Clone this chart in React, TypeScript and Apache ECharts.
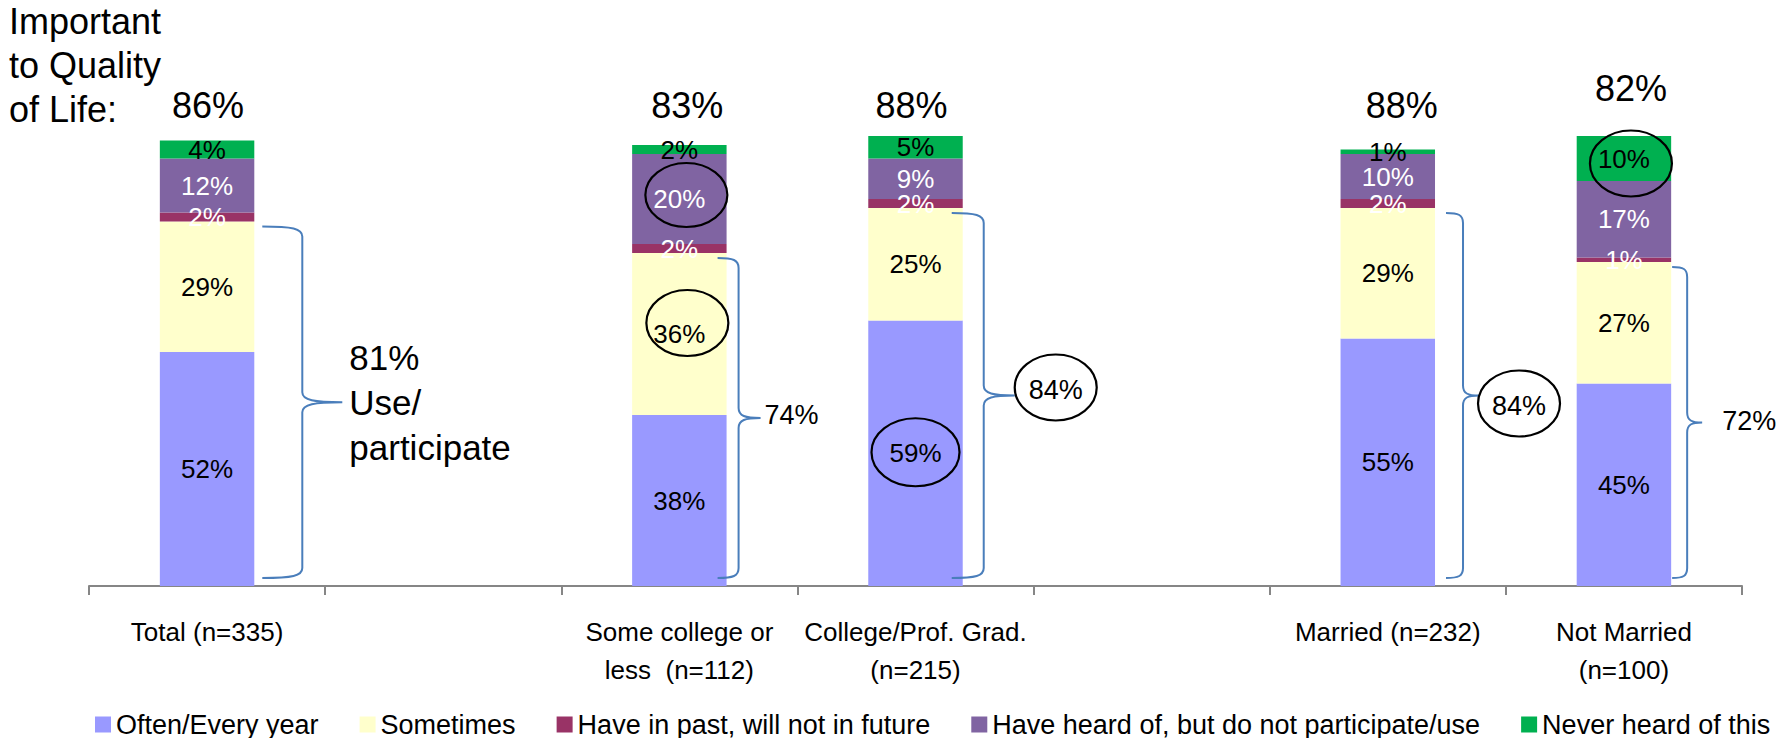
import React, { useEffect, useRef } from "react";
import * as echarts from "echarts";

// ---------------- DATA ----------------
const categories = [
  "Total (n=335)",
  "",
  "Some college or\nless  (n=112)",
  "College/Prof. Grad.\n(n=215)",
  "",
  "Married (n=232)",
  "Not Married\n(n=100)",
];
const seriesNames = [
  "Often/Every year",
  "Sometimes",
  "Have in past, will not in future",
  "Have heard of, but do not participate/use",
  "Never heard of this",
];
const often = [52, null, 38, 59, null, 55, 45];
const sometimes = [29, null, 36, 25, null, 29, 27];
const pastNotFuture = [2, null, 2, 2, null, 2, 1];
const heardNotUse = [12, null, 20, 9, null, 10, 17];
const neverHeard = [4, null, 2, 5, null, 1, 10];
const importantQoL = [86, null, 83, 88, null, 88, 82];
const useParticipate = [81, null, 74, 84, null, 84, 72];
// circled segment labels: [category index, series index]
const circledSegments = [
  [2, 3],
  [2, 1],
  [3, 0],
  [6, 4],
];
// categories whose "use/participate" total is circled
const circledTotals = [3, 5];

const seriesValues = [often, sometimes, pastNotFuture, heardNotUse, neverHeard];

// ---------------- STYLE ----------------
const FONT = "'Liberation Sans', Arial, Helvetica, sans-serif";
const COLORS = ["#9999FF", "#FFFFCC", "#993366", "#8064A2", "#00B050"];
const LABEL_COLORS = ["#000000", "#000000", "#FFFFFF", "#FFFFFF", "#000000"];
const BRACE_COLOR = "#4A7EBB";

// offsets (px) of the top "important" labels relative to the 100% line at the bar centre
const TOP_LABEL_OFFSET: Record<number, [number, number]> = {
  0: [1, -31],
  2: [8, -31],
  3: [-4, -31],
  5: [14, -31],
  6: [7, -48],
};
// brace geometry relative to bar right edge; label offsets relative to tip
const BRACE_STYLE: Record<number, any> = {
  0: { start: 8, vert: 48, tip: 88, ldx: 7, ldy: 0 },
  2: { start: -9, vert: 12, tip: 34, ldx: 4, ldy: -3 },
  3: { start: -11, vert: 21, tip: 52, ldx: 41, ldy: -8 },
  5: { start: 11, vert: 28, tip: 44, ldx: 40, ldy: 8 },
  6: { start: 1, vert: 16, tip: 31, ldx: 20, ldy: -2 },
};
// ellipse offsets for circled segment labels: [dx, dy, rx, ry]
const SEG_CIRCLE_STYLE = [
  [7, -4, 41, 32],
  [8, -11, 41, 33],
  [0, -1, 44, 34],
  [7, 5, 41, 33],
];

function segmentCenter(cat: number, sIdx: number): number {
  let below = 0;
  for (let j = 0; j < sIdx; j++) below += (seriesValues[j][cat] as number) || 0;
  return below + ((seriesValues[sIdx][cat] as number) || 0) / 2;
}

const barSeries = seriesValues.map((vals, i) => ({
  name: seriesNames[i],
  type: "bar",
  stack: "total",
  barWidth: "40%",
  silent: true,
  data: vals.map((v) => (v == null ? null : v)),
  itemStyle: { color: COLORS[i] },
  label: {
    show: true,
    position: "inside",
    formatter: (p: any) => `${p.value}%`,
    color: LABEL_COLORS[i],
    fontSize: 26,
    fontFamily: FONT,
    textBorderWidth: 0,
  },
}));

const topLabelData = importantQoL
  .map((v, i) => (v == null ? null : [i, v]))
  .filter((d) => d) as number[][];

const braceData = useParticipate
  .map((v, i) => (v == null ? null : [i, v]))
  .filter((d) => d) as number[][];

const segCircleData = circledSegments.map(([c, s], k) => [c, segmentCenter(c, s), k]);

const option: any = {
  animation: false,
  backgroundColor: "#FFFFFF",
  grid: { left: 89, right: 47, top: 136, bottom: 152, containLabel: false },
  xAxis: {
    type: "category",
    data: categories,
    axisLine: { show: true, lineStyle: { color: "#868686", width: 2 } },
    axisTick: { show: true, length: 9, lineStyle: { color: "#868686", width: 2 } },
    axisLabel: {
      interval: 0,
      color: "#000000",
      fontSize: 26,
      lineHeight: 38,
      margin: 27,
      fontFamily: FONT,
    },
  },
  yAxis: { type: "value", min: 0, max: 100, show: false },
  legend: {
    data: seriesNames,
    left: 90,
    top: 706,
    icon: "rect",
    itemWidth: 16,
    itemHeight: 16,
    itemGap: 41,
    selectedMode: false,
    textStyle: { color: "#000000", fontSize: 27, fontFamily: FONT },
  },
  graphic: [
    {
      type: "text",
      left: 9,
      top: -1,
      style: {
        text: "Important\nto Quality\nof Life:",
        fill: "#000000",
        fontSize: 36,
        lineHeight: 44,
        fontFamily: FONT,
      },
    },
  ],
  series: [
    ...barSeries,
    {
      type: "custom",
      name: "importantTop",
      coordinateSystem: "cartesian2d",
      silent: true,
      clip: false,
      z: 10,
      data: topLabelData,
      renderItem: (params: any, api: any) => {
        const cat = api.value(0);
        const v = api.value(1);
        const p = api.coord([cat, 100]);
        const off = TOP_LABEL_OFFSET[cat] || [0, -31];
        return {
          type: "text",
          x: p[0] + off[0],
          y: p[1] + off[1],
          style: {
            text: `${v}%`,
            fill: "#000000",
            fontSize: 36,
            fontFamily: FONT,
            textAlign: "center",
            textVerticalAlign: "middle",
          },
        };
      },
    },
    {
      type: "custom",
      name: "braces",
      coordinateSystem: "cartesian2d",
      silent: true,
      clip: false,
      z: 10,
      data: braceData,
      renderItem: (params: any, api: any) => {
        const cat = api.value(0);
        const v = api.value(1);
        const st = BRACE_STYLE[cat];
        const top = api.coord([cat, v]);
        const base = api.coord([cat, 0]);
        const bw = api.size([1, 0])[0] * 0.4;
        const right = top[0] + bw / 2;
        const x0 = right + st.start;
        const xv = right + st.vert;
        const xt = right + st.tip;
        const yT = top[1] + 5;
        const yB = base[1] - 8;
        const yM = (yT + yB) / 2;
        const h = 10;
        const d =
          `M${x0} ${yT} C${x0 + (xv - x0) * 0.75} ${yT} ${xv} ${yT + 2} ${xv} ${yT + h} ` +
          `L${xv} ${yM - h} C${xv} ${yM - 2} ${xv + (xt - xv) * 0.3} ${yM} ${xt} ${yM} ` +
          `C${xv + (xt - xv) * 0.3} ${yM} ${xv} ${yM + 2} ${xv} ${yM + h} ` +
          `L${xv} ${yB - h} C${xv} ${yB - 2} ${x0 + (xv - x0) * 0.75} ${yB} ${x0} ${yB}`;
        const circled = circledTotals.indexOf(cat) >= 0;
        const lx = xt + st.ldx;
        const ly = yM + st.ldy;
        const children: any[] = [
          {
            type: "path",
            shape: { pathData: d },
            style: { stroke: BRACE_COLOR, lineWidth: 2, fill: "none" },
          },
        ];
        if (circled) {
          children.push({
            type: "ellipse",
            shape: { cx: lx, cy: ly, rx: 41, ry: 33 },
            style: { stroke: "#000000", lineWidth: 2.2, fill: "none" },
          });
          children.push({
            type: "text",
            x: lx,
            y: ly + 2,
            style: {
              text: `${v}%`,
              fill: "#000000",
              fontSize: 27,
              fontFamily: FONT,
              textAlign: "center",
              textVerticalAlign: "middle",
            },
          });
        } else {
          const txt = cat === 0 ? `${v}%\nUse/\nparticipate` : `${v}%`;
          children.push({
            type: "text",
            x: lx,
            y: ly,
            style: {
              text: txt,
              fill: "#000000",
              fontSize: cat === 0 ? 35 : 27,
              lineHeight: cat === 0 ? 45 : 32,
              fontFamily: FONT,
              textAlign: "left",
              textVerticalAlign: "middle",
            },
          });
        }
        return { type: "group", children };
      },
    },
    {
      type: "custom",
      name: "segCircles",
      coordinateSystem: "cartesian2d",
      silent: true,
      clip: false,
      z: 10,
      data: segCircleData,
      renderItem: (params: any, api: any) => {
        const cat = api.value(0);
        const v = api.value(1);
        const k = api.value(2);
        const s = SEG_CIRCLE_STYLE[k];
        const p = api.coord([cat, v]);
        return {
          type: "ellipse",
          shape: { cx: p[0] + s[0], cy: p[1] + s[1], rx: s[2], ry: s[3] },
          style: { stroke: "#000000", lineWidth: 2.2, fill: "none" },
        };
      },
    },
  ],
};

export default function App() {
  const ref = useRef<HTMLDivElement>(null);
  useEffect(() => {
    if (!ref.current) return;
    const chart = echarts.init(ref.current, null, { renderer: "svg" });
    chart.setOption(option);
    return () => chart.dispose();
  }, []);
  return (
    <div
      ref={ref}
      style={{ position: "fixed", left: 0, top: 0, width: 1789, height: 738, background: "#FFFFFF" }}
    />
  );
}
